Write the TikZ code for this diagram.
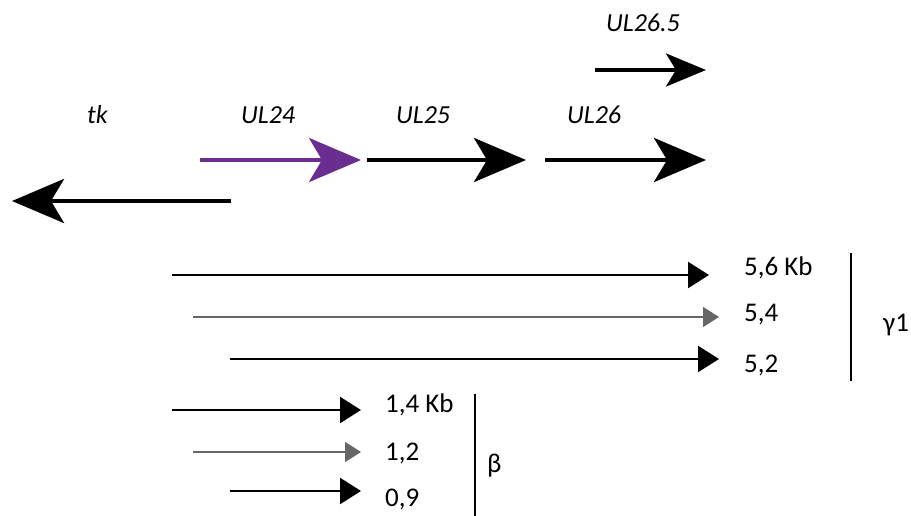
\documentclass[tikz,border=0pt]{standalone}
\usepackage{fontspec}
\setmainfont{Carlito}
\usetikzlibrary{arrows.meta}
\definecolor{genepurple}{HTML}{6A2E91}
\definecolor{txgray}{HTML}{666666}
\begin{document}
\begin{tikzpicture}[x=1pt,y=-1pt,
  gene/.style={line width=4.5pt,-{Stealth[length=52pt,width=44pt,inset=13pt]}},
  smallgene/.style={line width=4pt,-{Stealth[length=40pt,width=33pt,inset=10pt]}},
  tx/.style={line width=2.4pt,-{Triangle[length=21pt,width=26pt]}},
  txg/.style={line width=1.4pt,txgray,-{Triangle[length=16pt,width=20pt]}},
  glabel/.style={font=\fontsize{26}{26}\selectfont\itshape,anchor=base west,inner sep=0pt},
  nlabel/.style={font=\fontsize{27}{27}\selectfont,anchor=base west,inner sep=0pt},
  bar/.style={line width=2pt}]
\useasboundingbox (0,0) rectangle (911,516);
% genes
\coordinate (tkS) at (231,201); \coordinate (tkE) at (12,201);
\coordinate (a24S) at (200,160); \coordinate (a24E) at (361,160);
\coordinate (a25S) at (367,160); \coordinate (a25E) at (526,160);
\coordinate (a26S) at (545,160); \coordinate (a26E) at (706,160);
\coordinate (a265S) at (595,70); \coordinate (a265E) at (706,70);
\draw[gene] (tkS) -- (tkE);
\draw[gene,genepurple] (a24S) -- (a24E);
\draw[gene] (a25S) -- (a25E);
\draw[gene] (a26S) -- (a26E);
\draw[smallgene] (a265S) -- (a265E);
\node[glabel] (ltk) at (87,124) {tk};
\node[glabel] (l24) at (241,124) {UL24};
\node[glabel] (l25) at (396,124) {UL25};
\node[glabel] (l26) at (567,124) {UL26};
\node[glabel] (l265) at (606,32) {UL26.5};
% gamma1 transcripts
\coordinate (g1S) at (172,275); \coordinate (g1E) at (709,275);
\coordinate (g2S) at (193,317); \coordinate (g2E) at (719,317);
\coordinate (g3S) at (230,359); \coordinate (g3E) at (719,359);
\draw[tx] (g1S) -- (g1E);
\draw[txg] (g2S) -- (g2E);
\draw[tx] (g3S) -- (g3E);
\node[nlabel] (n56) at (744,275) {5,6 Kb};
\node[nlabel] (n54) at (744,321) {5,4};
\node[nlabel] (n52) at (744,372) {5,2};
\coordinate (v1a) at (851,253); \coordinate (v1b) at (851,381);
\draw[bar] (v1a) -- (v1b);
\node[nlabel] (gam) at (883,331) {γ1};
% beta transcripts
\coordinate (b1S) at (172,410); \coordinate (b1E) at (361,410);
\coordinate (b2S) at (193,452); \coordinate (b2E) at (361,452);
\coordinate (b3S) at (230,491); \coordinate (b3E) at (361,491);
\draw[tx] (b1S) -- (b1E);
\draw[txg] (b2S) -- (b2E);
\draw[tx] (b3S) -- (b3E);
\node[nlabel] (n14) at (385,412) {1,4 Kb};
\node[nlabel] (n12) at (385,460) {1,2};
\node[nlabel] (n09) at (385,506) {0,9};
\coordinate (v2a) at (475,394); \coordinate (v2b) at (475,516);
\draw[bar] (v2a) -- (v2b);
\node[nlabel] (bet) at (487,472) {β};
\end{tikzpicture}
\end{document}
